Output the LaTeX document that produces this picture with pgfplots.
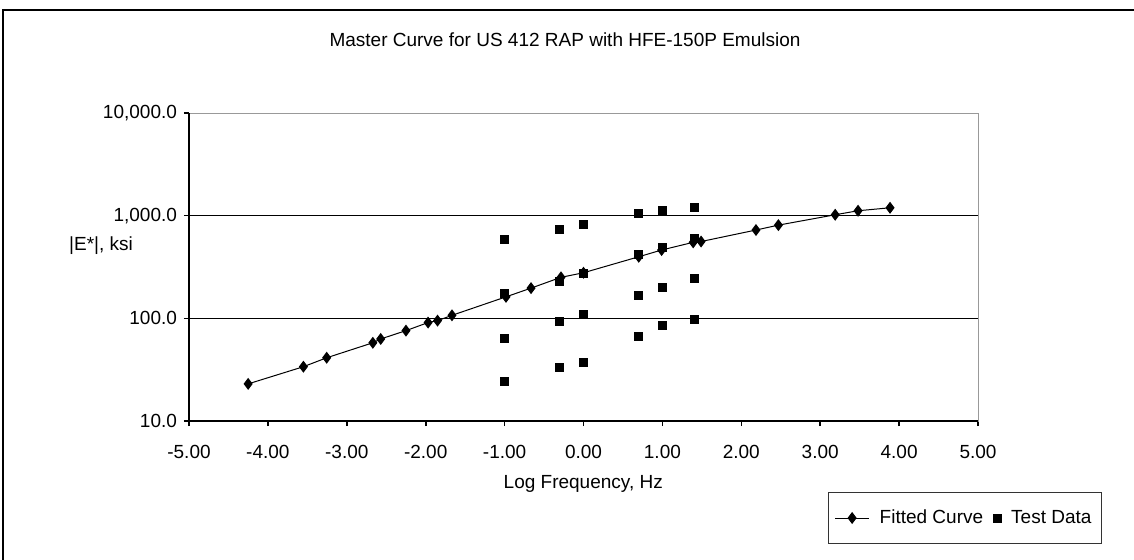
\documentclass[border=0pt]{standalone}
\usepackage{fontspec}
\setmainfont{Liberation Sans}
\usepackage{pgfplots}
\pgfplotsset{compat=1.18}

\begin{document}
\begin{tikzpicture}[font=\fontsize{9.5}{11.4}\selectfont]
  \begin{semilogyaxis}[
      scale only axis,
      width=394.5pt, height=154pt,
      xmin=-5, xmax=5, ymin=10, ymax=10000,
      xtick={-5,-4,...,5},
      xticklabels={-5.00,-4.00,-3.00,-2.00,-1.00,0.00,1.00,2.00,3.00,4.00,5.00},
      xticklabel style={yshift=-6pt},
      ytick={10,100,1000,10000},
      yticklabels={10.0,100.0,{1,000.0},{10,000.0}},
      xtick pos=left, ytick pos=left,
      tick align=outside,
      major tick length=2.5pt,
      minor tick length=0pt,
      tick style={black, line width=0.8pt},
      axis line style={gray!80, line width=0.5pt},
      ymajorgrids,
      major grid style={black, line width=0.5pt},
      title={Master Curve for US 412 RAP with HFE-150P Emulsion},
      title style={at={(0.4766,1.198)}, anchor=center},
      xlabel={Log Frequency, Hz},
      xlabel style={at={(0.4997,-0.205)}, anchor=center},
      ylabel={|E*|, ksi},
      ylabel style={at={(-0.1115,0.568)}, anchor=center, rotate=-90},
      legend columns=2,
      legend style={at={(0.9835,-0.315)}, anchor=center, draw=black!80,
        line width=0.5pt, inner xsep=3pt, inner ysep=6.5pt, column sep=3pt},
    ]
    \addplot[black, line width=0.5pt, mark=diamond*, mark size=2.6pt,
      mark options={solid}] coordinates {
      (-4.25,23) (-3.55,33.8) (-3.255,41.3) (-2.67,57.8) (-2.57,63)
      (-2.25,75.9) (-1.97,91) (-1.85,95) (-1.667,107) (-0.982,162)
      (-0.665,197) (-0.285,251) (0.0,278) (0.70,398) (0.99,463)
      (1.39,550) (1.49,560) (2.186,725) (2.47,809) (3.19,1021)
      (3.48,1117) (3.885,1194)
    };
    \addlegendentry{Fitted Curve}
    \addplot[only marks, black, mark=square*, mark size=2pt] coordinates {
      (-1.0,588) (-1.0,175) (-1.0,63.8) (-1.0,24.5)
      (-0.30,741) (-0.30,231) (-0.30,94) (-0.30,33.3)
      (0.0,828) (0.0,274) (0.0,109) (0.0,37.3)
      (0.70,1043) (0.70,420) (0.70,166) (0.70,66)
      (1.0,1125) (1.0,487) (1.0,200) (1.0,86)
      (1.40,1205) (1.40,596) (1.40,243) (1.40,97.8)
    };
    \addlegendentry{Test Data}
  \end{semilogyaxis}
  % Excel style axis lines: left and bottom thick black
  \draw[black, line width=1pt] (0,154pt) -- (0,0) -- (394.5pt,0);
  % chart frame
  \draw[black, line width=1pt] (-93pt,-90pt) -- (-93pt,205.5pt) -- (490pt,205.5pt);
  \pgfresetboundingbox
  \path[use as bounding box] (-94.5pt,-69pt) rectangle (472.5pt,210.5pt);
\end{tikzpicture}
\end{document}
